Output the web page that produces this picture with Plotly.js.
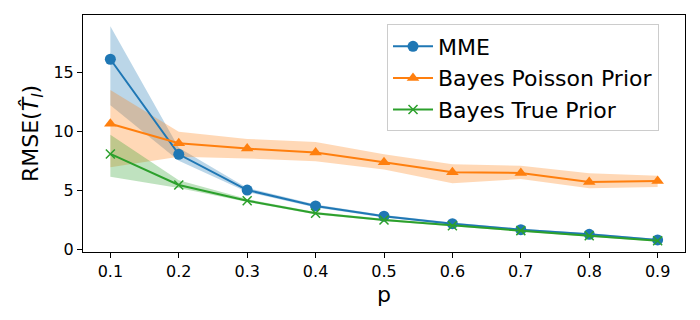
<!DOCTYPE html>
<html>
<head>
<meta charset="utf-8">
<script src="https://cdn.plot.ly/plotly-3.0.1.min.js"></script>
<style>
  html, body { margin: 0; padding: 0; background: #fff; }
  #display { width: 700px; height: 320px; }
</style>
</head>
<body>
<div id="display"></div>
<script>
// values
let p = [0.1, 0.2, 0.3, 0.4, 0.5, 0.6, 0.7, 0.8, 0.9];

let mme   = [16.1, 8.05, 5.02, 3.67, 2.8, 2.17, 1.66, 1.27, 0.79];
let mmeLo = [12.2, 7.5, 4.85, 3.55, 2.7, 2.08, 1.57, 1.19, 0.72];
let mmeHi = [18.9, 8.6, 5.2, 3.8, 2.9, 2.27, 1.75, 1.35, 0.87];

let poisson   = [10.64, 8.98, 8.53, 8.19, 7.37, 6.53, 6.47, 5.7, 5.79];
let poissonLo = [6.95, 7.85, 7.7, 7.45, 6.75, 5.6, 5.95, 5.17, 5.27];
let poissonHi = [13.5, 9.95, 9.35, 9.1, 8.05, 7.2, 7.08, 6.44, 6.22];

let truePrior = [8.08, 5.45, 4.12, 3.05, 2.48, 2.0, 1.58, 1.15, 0.73];
let trueLo    = [6.15, 5.2, 4.0, 2.95, 2.4, 1.92, 1.5, 1.07, 0.66];
let trueHi    = [9.7, 5.85, 4.25, 3.15, 2.58, 2.08, 1.66, 1.23, 0.8];

let names = ['MME', 'Bayes Poisson Prior', 'Bayes True Prior'];
let colors = ['#1f77b4', '#ff7f0e', '#2ca02c'];
let fills = ['rgba(31,119,180,0.3)', 'rgba(255,127,14,0.3)', 'rgba(44,160,44,0.3)'];
let symbols = ['circle', 'triangle-up', 'x-thin-open'];

function band(lo, hi, i){
	return [
		{x: p, y: lo, mode: 'lines', line: {width: 0}, showlegend: false, hoverinfo: 'skip'},
		{x: p, y: hi, mode: 'lines', line: {width: 0}, fill: 'tonexty', fillcolor: fills[i], showlegend: false, hoverinfo: 'skip'}
	];
}

function line(y, i){
	let mk = {symbol: symbols[i], size: 11, color: colors[i]};
	if(i == 2){ mk.size = 9; mk.line = {color: colors[i], width: 1.5}; }
	return {x: p, y: y, name: names[i], mode: 'lines+markers', line: {color: colors[i], width: 2}, marker: mk};
}

let traces = [].concat(
	band(mmeLo, mmeHi, 0),
	band(poissonLo, poissonHi, 1),
	band(trueLo, trueHi, 2),
	[line(mme, 0), line(poisson, 1), line(truePrior, 2)]
);

let axisStyle = {
	showline: true, mirror: true, linecolor: '#000', linewidth: 1,
	ticks: 'outside', ticklen: 5, tickwidth: 1, tickcolor: '#000',
	showgrid: false, zeroline: false,
	tickfont: {family: 'DejaVu Sans', size: 16, color: '#000'}
};

let layout = {
	width: 700, height: 320,
	margin: {l: 83, r: 15, t: 15, b: 68},
	paper_bgcolor: '#fff', plot_bgcolor: '#fff',
	font: {family: 'DejaVu Sans', color: '#000'},
	xaxis: Object.assign({}, axisStyle, {
		range: [0.06, 0.94], tickvals: p, ticktext: p.map(v => v.toFixed(1)),
		title: {text: 'p', font: {size: 22}, standoff: 6}
	}),
	yaxis: Object.assign({}, axisStyle, {
		range: [-0.23, 19.85], tickvals: [0, 5, 10, 15],
		title: {text: 'RMSE(<i>T\u0302</i><sub><i>l</i></sub>)', font: {size: 22}, standoff: 8}
	}),
	legend: {
		x: 0.505, y: 0.96, xanchor: 'left', yanchor: 'top',
		traceorder: 'normal',
		bgcolor: 'rgba(255,255,255,0.8)', bordercolor: '#cccccc', borderwidth: 1,
		font: {family: 'DejaVu Sans', size: 22, color: '#000'},
		itemwidth: 40
	},
	showlegend: true
};

Plotly.newPlot('display', traces, layout, {staticPlot: true});
</script>
</body>
</html>
